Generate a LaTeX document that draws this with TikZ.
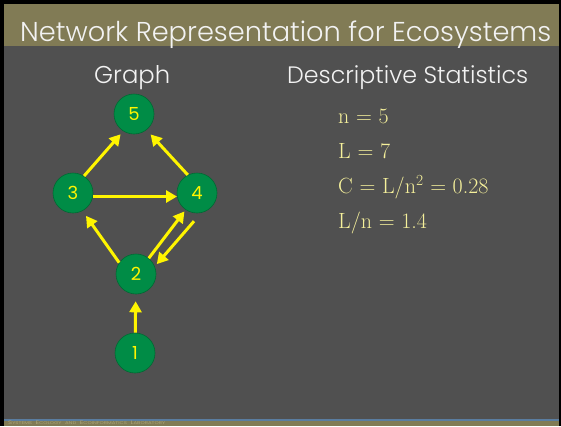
\documentclass[tikz,border=0pt]{standalone}
\usepackage{fontspec}
\usetikzlibrary{arrows.meta}
\newfontfamily\gothic{Poppins}[UprightFont=* Light]
\newfontfamily\gothicreg{Poppins}
\definecolor{slideolive}{RGB}{129,123,85}
\definecolor{slidegray}{RGB}{80,80,80}
\definecolor{footblue}{RGB}{90,125,160}
\definecolor{foottext}{RGB}{170,163,120}
\definecolor{nodegreen}{RGB}{0,140,70}
\definecolor{nodeedge}{RGB}{0,105,50}
\definecolor{arrowyellow}{RGB}{255,245,0}
\definecolor{statyellow}{RGB}{245,240,155}
\definecolor{headwhite}{RGB}{242,242,242}
\tikzset{
  species/.style={circle, minimum size=40pt, inner sep=0pt, fill=nodegreen,
    draw=nodeedge, line width=0.6pt, text=arrowyellow,
    font=\gothicreg\fontsize{18}{18}\selectfont},
  flow/.style={draw=arrowyellow, line width=3pt,
    -{Triangle[length=11pt,width=12pt]}},
  stat/.style={anchor=base west, text=statyellow, inner sep=0pt,
    font=\fontsize{22}{22}\selectfont},
  heading/.style={anchor=base west, text=headwhite, inner sep=0pt}
}
\newcommand{\smallcapsword}[2]{{\fontsize{5.2}{5}\selectfont #1}{\fontsize{4}{5}\selectfont #2}}
\begin{document}
\begin{tikzpicture}[x=1pt,y=1pt]
  \useasboundingbox (0,0) rectangle (561,-426);
  % frame and slide panels
  \fill[black] (0,0) rectangle (561,-426);
  \fill[slideolive] (4,-4) rectangle (559,-46);
  \fill[slidegray] (4,-46) rectangle (559,-419);
  \fill[footblue] (4,-419) rectangle (559,-421);
  \fill[slideolive] (4,-421) rectangle (559,-426);

  % headings
  \node[heading] (title) at (20,-41)
    {\resizebox{531pt}{!}{\gothic Network Representation for Ecosystems}};
  \node[heading] (graphhead) at (94,-83)
    {\resizebox{76pt}{!}{\gothic Graph}};
  \node[heading] (stathead) at (287,-83)
    {\resizebox{241pt}{!}{\gothic Descriptive Statistics}};

  % statistics
  \node[stat] (sn) at (338,-123.3) {n = 5};
  \node[stat] (sl) at (338,-158.3) {L = 7};
  \node[stat] (sc) at (338,-193.3) {C = L/n\textsuperscript{2} = 0.28};
  \node[stat] (sd) at (338,-228.3) {L/n = 1.4};

  % food web
  \node[species] (n5) at (134,-114) {5};
  \node[species] (n3) at (73,-193) {3};
  \node[species] (n4) at (197,-193) {4};
  \node[species] (n2) at (136,-274) {2};
  \node[species] (n1) at (135,-353) {1};

  \draw[flow, shorten >=4pt] (n3.57) -- (n5.238);
  \draw[flow, shorten >=6pt] (n4.117) -- (n5.308);
  \draw[flow] (n3.350) -- (n4.190);
  \draw[flow, shorten >=6pt] (n2.146) -- (n3.298);
  \draw[flow, shorten >=2pt] (n2.51) -- (n4.236);
  \draw[flow, shorten <=11pt, shorten >=3pt] (n4.282) -- (n2.22);
  \draw[flow, shorten >=7pt] (n1) -- (n2);

  % footer
  \node[anchor=base west, text=foottext, inner sep=0pt] (footer) at (8,-424.8)
    {\resizebox{157pt}{3.6pt}{\gothicreg\smallcapsword{S}{YSTEMS} \smallcapsword{E}{COLOGY} \smallcapsword{}{AND} \smallcapsword{E}{COINFORMATICS} \smallcapsword{L}{ABORATORY}}};
\end{tikzpicture}
\end{document}
